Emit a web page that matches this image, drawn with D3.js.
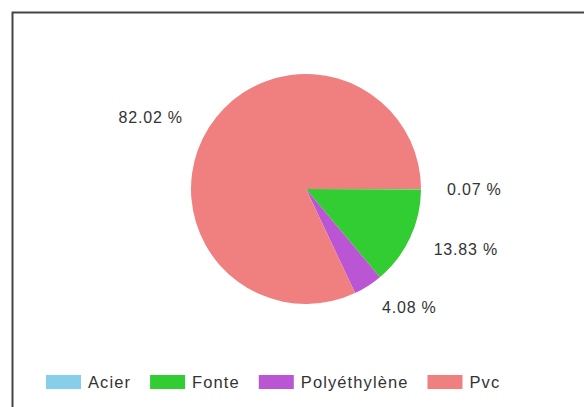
<!DOCTYPE html>
<html>
<head>
<meta charset="utf-8">
<script src="https://cdn.jsdelivr.net/npm/d3@7"></script>
<style>
  body { margin: 0; background: #fff; }
  text { font-family: "Liberation Sans", Arial, sans-serif; fill: #333; }
</style>
</head>
<body>
<script>
// data
const categories = ["Acier", "Fonte", "Polyéthylène", "Pvc"];
const shares = [0.07, 13.83, 4.08, 82.02];
const colors = ["#87CEEB", "#32CD32", "#BA55D3", "#F08080"];

const w = 584, h = 407;
const cx = 306, cy = 189, r = 115;

const svg = d3.select("body").append("svg")
    .attr("width", w)
    .attr("height", h);

// frame (only top and left edges show)
svg.append("path")
    .attr("d", "M12.5," + h + " L12.5,12.5 L" + w + ",12.5")
    .attr("fill", "none")
    .attr("stroke", "#444")
    .attr("stroke-width", 2);

const data = categories.map((c, i) => ({ name: c, value: shares[i], color: colors[i] }));

// start at 3 o'clock, clockwise
const pie = d3.pie()
    .sort(null)
    .value(d => d.value)
    .startAngle(Math.PI / 2)
    .endAngle(Math.PI / 2 + 2 * Math.PI);

const arc = d3.arc().innerRadius(0).outerRadius(r);
const labelArc = d3.arc().innerRadius(141).outerRadius(141);

const g = svg.append("g").attr("transform", "translate(" + cx + "," + cy + ")");

const arcs = pie(data);

g.selectAll("path")
    .data(arcs)
    .enter()
    .append("path")
    .attr("d", arc)
    .attr("fill", d => d.data.color);

const leftSide = d => Math.sin((d.startAngle + d.endAngle) / 2) < 0;

g.selectAll("text")
    .data(arcs)
    .enter()
    .append("text")
    .attr("transform", d => {
        const p = labelArc.centroid(d);
        return "translate(" + p[0] + "," + p[1] + ")";
    })
    .attr("dx", d => leftSide(d) ? -4 : 0)
    .attr("dy", d => leftSide(d) ? "0.6em" : "0.35em")
    .attr("text-anchor", d => leftSide(d) ? "end" : "start")
    .attr("font-size", "16px")
    .attr("letter-spacing", "0.8px")
    .text(d => d.data.value.toFixed(2) + " %");

// legend
const legend = svg.append("g").attr("transform", "translate(46,375)");
let x = 0;
categories.forEach((c, i) => {
    const item = legend.append("g").attr("transform", "translate(" + x + ",0)");
    item.append("rect")
        .attr("width", 35)
        .attr("height", 14)
        .attr("fill", colors[i]);
    const t = item.append("text")
        .attr("x", 42)
        .attr("y", 7)
        .attr("dy", "0.35em")
        .attr("font-size", "16.5px")
        .attr("letter-spacing", "1.1px")
        .text(c);
    x += 42 + t.node().getComputedTextLength() + 19;
});
</script>
</body>
</html>
